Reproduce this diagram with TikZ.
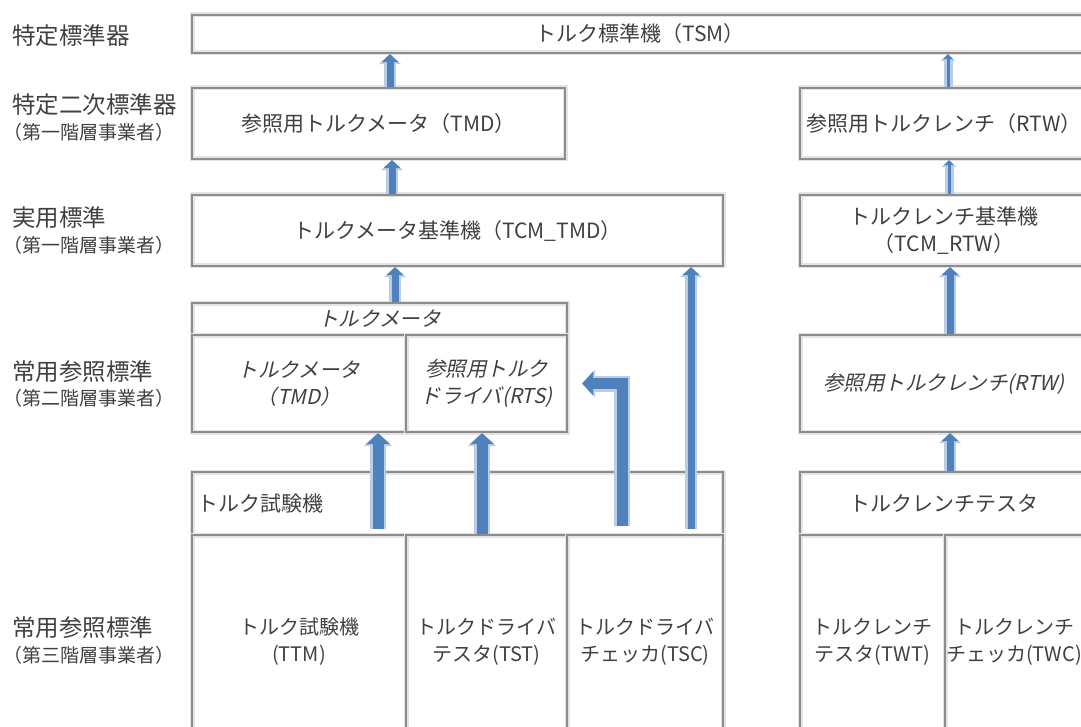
\documentclass[tikz,border=0pt]{standalone}
\usepackage{fontspec}
\setmainfont{Noto Sans CJK JP}
\newfontfamily\slfont[FakeSlant=0.22]{Noto Sans CJK JP}
\usetikzlibrary{arrows.meta}
\definecolor{bcol}{RGB}{140,140,140}
\definecolor{shad}{RGB}{228,228,228}
\definecolor{tcol}{RGB}{64,64,64}
\definecolor{ablue}{RGB}{79,129,189}
\definecolor{ahalo}{RGB}{185,205,229}
\begin{document}
\begin{tikzpicture}[x=1pt,y=-1pt,
  box/.style={draw=bcol, line width=2.2pt, preaction={draw=shad, line width=5pt},
    inner sep=0pt, text=tcol, align=center, font=\fontsize{21}{27}\selectfont},
  cellbox/.style={box, font=\fontsize{20}{27}\selectfont},
  slbox/.style={box, font=\fontsize{20.5}{27}\selectfont\slfont},
  labtitle/.style={anchor=west, inner sep=0pt, text=tcol, font=\fontsize{23.5}{28}\selectfont},
  labsub/.style={anchor=west, inner sep=0pt, text=tcol, font=\fontsize{19}{22}\selectfont},
  arrT/.style={draw=ablue, line width=3pt, -{Triangle[width=10pt,length=5pt,line width=0pt]},
    preaction={draw=ahalo, line width=9pt, -{Triangle[width=15pt,length=7pt,line width=0pt]}}},
  arrN/.style={draw=ablue, line width=7pt, -{Triangle[width=17pt,length=8pt,line width=0pt]},
    preaction={draw=ahalo, line width=12pt, -{Triangle[width=22pt,length=10pt,line width=0pt]}}},
  arrK/.style={draw=ablue, line width=11pt, -{Triangle[width=24pt,length=11pt,line width=0pt]},
    preaction={draw=ahalo, line width=16pt, -{Triangle[width=28pt,length=13pt,line width=0pt]}}}
]
\useasboundingbox (0,0) rectangle (1081,727);

% left labels
\node[labtitle] (l1) at (12,36) {特定標準器};
\node[labtitle] (l2a) at (12,105) {特定二次標準器};
\node[labsub]   (l2b) at (3,132) {（第一階層事業者）};
\node[labtitle] (l3a) at (12,218) {実用標準};
\node[labsub]   (l3b) at (3,245) {（第一階層事業者）};
\node[labtitle] (l4a) at (12,372) {常用参照標準};
\node[labsub]   (l4b) at (3,398) {（第二階層事業者）};
\node[labtitle] (l5a) at (12,628) {常用参照標準};
\node[labsub]   (l5b) at (3,655) {（第三階層事業者）};

% boxes
\node[box, minimum width=896pt, minimum height=38pt] (tsm) at (640,34) {トルク標準機（TSM）};
\node[box, minimum width=373pt, minimum height=71pt] (tmd) at (378.5,123.5) {参照用トルクメータ（TMD）};
\node[box, minimum width=288pt, minimum height=71pt] (rtw) at (944,123.5) {参照用トルクレンチ（RTW）};
\node[box, minimum width=531pt, minimum height=71pt] (tcmtmd) at (457.5,230.5) {トルクメータ基準機（TCM\_TMD）};
\node[box, minimum width=288pt, minimum height=71pt] (tcmrtw) at (944,230.5) {トルクレンチ基準機\\（TCM\_RTW）};

\node[slbox, minimum width=375pt, minimum height=32pt] (tmgrp) at (379.5,319) {トルクメータ};
\node[slbox, minimum width=214pt, minimum height=97pt] (tmdcell) at (299,383.5) {トルクメータ\\（TMD）};
\node[slbox, minimum width=161pt, minimum height=97pt] (rtscell) at (486.5,383.5) {参照用トルク\\ドライバ(RTS)};
\node[slbox, minimum width=288pt, minimum height=97pt] (rtwref) at (944,383.5) {参照用トルクレンチ(RTW)};

\node[box, minimum width=531pt, minimum height=63pt, text width=521pt, align=left] (ttmhead) at (457.5,503.5) {トルク試験機};
\node[cellbox, minimum width=214pt, minimum height=213pt] (ttm) at (299,641.5) {トルク試験機\\(TTM)};
\node[cellbox, minimum width=161pt, minimum height=213pt] (tst) at (486.5,641.5) {トルクドライバ\\テスタ(TST)};
\node[cellbox, minimum width=156pt, minimum height=213pt] (tsc) at (645,641.5) {トルクドライバ\\チェッカ(TSC)};

\node[box, minimum width=288pt, minimum height=63pt] (twthead) at (944,503.5) {トルクレンチテスタ};
\node[cellbox, minimum width=145pt, minimum height=213pt] (twt) at (872.5,641.5) {トルクレンチ\\テスタ(TWT)};
\node[cellbox, minimum width=143pt, minimum height=213pt, text width=134pt, align=center] (twc) at (1016.5,641.5) {\hspace*{-5pt}トルクレンチ\\\hspace*{-5pt}チェッカ(TWC)};

% arrow start points
\coordinate (s1) at ([xshift=11.5pt]tmd.north);
\coordinate (s3) at ([xshift=15.5pt]tmgrp.north);
\coordinate (s4) at ([xshift=4pt]rtw.north);
\coordinate (s5) at ([xshift=5pt]tcmrtw.north);
\coordinate (s6) at ([xshift=6pt]rtwref.north);
\coordinate (s7) at ([xshift=6pt]twthead.north);
\coordinate (s8) at ([xshift=79pt,yshift=5pt]ttm.north);
\coordinate (s9) at ([xshift=-4.5pt]tst.north);
\coordinate (s10) at ([xshift=-23pt,yshift=8pt]tsc.north);
\coordinate (s11) at ([xshift=46pt,yshift=5pt]tsc.north);
\coordinate (e10) at ([xshift=14pt]rtscell.east);
\coordinate (e2) at ([xshift=13.5pt]tmd.south);

% arrows
\draw[arrN] (s1) -- (s1 |- tsm.south);
\draw[arrN] (e2 |- tcmtmd.north) -- (e2);
\draw[arrN] (s3) -- (s3 |- tcmtmd.south);
\draw[arrT] (s4) -- (s4 |- tsm.south);
\draw[arrT] (s5) -- (s5 |- rtw.south);
\draw[arrN] (s6) -- (s6 |- tcmrtw.south);
\draw[arrN] (s7) -- (s7 |- rtwref.south);
\draw[arrK] (s8) -- (s8 |- tmdcell.south);
\draw[arrK] (s9) -- (s9 |- rtscell.south);
\draw[arrK] (s10) |- (e10);
\draw[arrN] (s11) -- (s11 |- tcmtmd.south);
\end{tikzpicture}
\end{document}
